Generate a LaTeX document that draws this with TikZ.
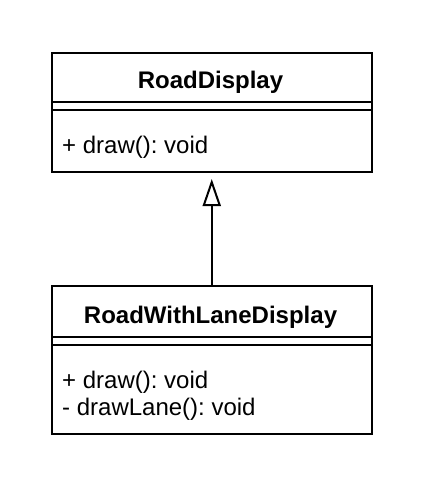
\documentclass[tikz,border=0pt]{standalone}
\usepackage{fontspec}
\setmainfont{Liberation Sans}
\usetikzlibrary{arrows.meta}
\frenchspacing
\begin{document}
\begin{tikzpicture}[x=1pt,y=-1pt,
  classbox/.style={draw, line width=2pt, rectangle, inner sep=0pt, anchor=north west},
  sep/.style={line width=2pt},
  title/.style={font=\fontsize{24}{28}\selectfont\bfseries, anchor=base, inner sep=0pt},
  member/.style={font=\fontsize{24}{28}\selectfont\frenchspacing, anchor=base west, inner sep=0pt},
  inherit/.style={line width=2pt, -{Triangle[open, width=18pt, length=27pt, line width=2pt]}, shorten >=6.5pt}]
\useasboundingbox (0,0) rectangle (422,490);
% top class
\node[classbox, minimum width=319.5pt, minimum height=119pt] (A) at (51,51.5) {};
\draw[sep] (51,102) -- (370.5,102);
\draw[sep] (51,110) -- (370.5,110);
\node[title] (At) at (210.5,88) {RoadDisplay};
\node[member] (Am) at (62,153.5) {+ draw(): void};
% bottom class
\node[classbox, minimum width=319.5pt, minimum height=148pt] (B) at (51,285) {};
\draw[sep] (51,337) -- (370.5,337);
\draw[sep] (51,344.5) -- (370.5,344.5);
\node[title] (Bt) at (210.5,323) {RoadWithLaneDisplay};
\node[member] (Bm1) at (62,388.5) {+ draw(): void};
\node[member] (Bm2) at (62,415.5) {- drawLane(): void};
% inheritance
\draw[inherit] (B.north) -- (A.south);
\end{tikzpicture}
\end{document}
